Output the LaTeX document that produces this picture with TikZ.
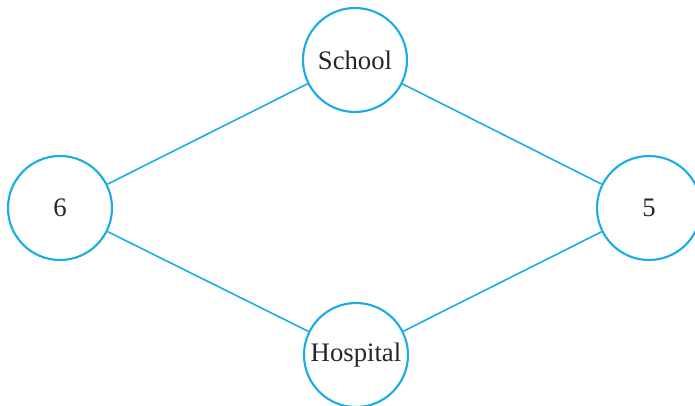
\documentclass[tikz,border=0pt]{standalone}
\usepackage{fontspec}
\setmainfont{Liberation Serif}
\usetikzlibrary{positioning}
\definecolor{linkblue}{HTML}{1AACE4}

\begin{document}
\begin{tikzpicture}[
  font=\fontsize{15.2}{18}\selectfont,
  place/.style={draw=linkblue, circle, line width=1.2pt, minimum size=2.08cm, inner sep=0pt, text=black!85},
  link/.style={draw=linkblue, line width=0.9pt}
]
\useasboundingbox (0,0) rectangle (13.9,-8.12);
\node[place] (school) at (7.1,-1.2) {School};
\node[place] (six) at (1.2,-4.16) {6};
\node[place] (five) at (12.98,-4.16) {5};
\node[place] (hospital) at (7.12,-7.1) {Hospital};

\draw[link] (six) -- (school);
\draw[link] (school) -- (five);
\draw[link] (six) -- (hospital);
\draw[link] (hospital) -- (five);

\end{tikzpicture}
\end{document}
